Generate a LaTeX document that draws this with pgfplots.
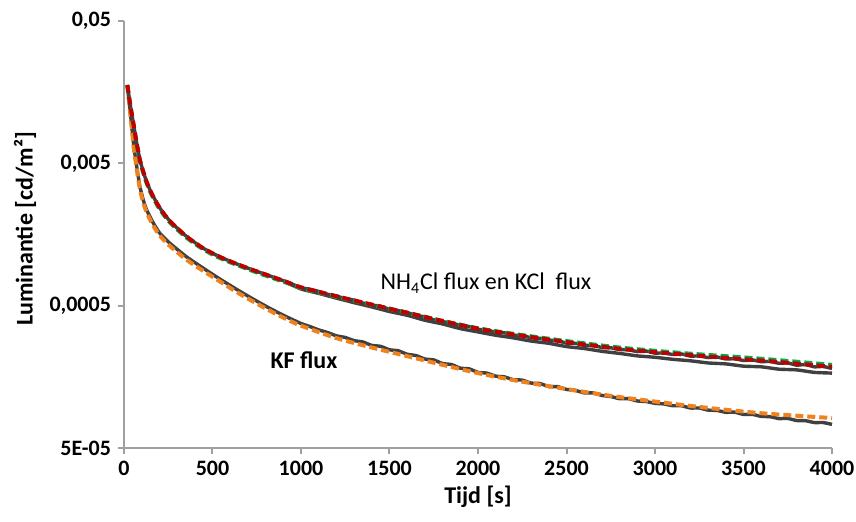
\documentclass[border=0pt]{standalone}
\usepackage{fontspec}
\setmainfont{Carlito}
\usepackage{pgfplots}
\usepackage{pgfplotstable}
\pgfplotsset{compat=1.18}
\definecolor{datagray}{HTML}{404040}
\definecolor{fitred}{HTML}{C00000}
\definecolor{fitgreen}{HTML}{00B050}
\definecolor{fitorange}{HTML}{F0821E}
\definecolor{axgray}{HTML}{A0A0A0}

\pgfplotstableread{
t v
19 0.01775
34 0.0132
53 0.00955
72 0.00691
90 0.00528
109 0.00437
128 0.00371
147 0.00325
166 0.00291
203 0.00242
260 0.00196
354 0.00153
446 0.00127
542 0.00110
638 0.000981
729 0.000890
825 0.000808
921 0.000733
1000 0.000673
1200 0.000583
1400 0.000509
1600 0.000446
1800 0.000390
2000 0.000345
2200 0.000314
2400 0.000289
2600 0.000267
2800 0.000249
3000 0.000236
3200 0.000225
3400 0.000215
3600 0.000206
3800 0.000196
4000 0.000186
}\redfit

\pgfplotstableread{
t v
19 0.01775
34 0.0131
53 0.00940
72 0.00678
90 0.00517
109 0.00428
128 0.00363
147 0.00318
166 0.00285
203 0.00237
260 0.00192
354 0.00150
446 0.00125
542 0.00108
729 0.000875
921 0.000722
1000 0.000664
1200 0.000578
1400 0.000507
1600 0.000446
1800 0.000391
2000 0.000347
2200 0.000317
2400 0.000293
2600 0.000272
2800 0.000254
3000 0.000241
3200 0.000230
3400 0.000221
3600 0.000212
3800 0.000202
4000 0.000192
}\greenfit

\pgfplotstableread{
t v
19 0.01775
34 0.0132
53 0.00955
72 0.00691
90 0.00528
109 0.00437
128 0.00371
147 0.00325
166 0.00291
203 0.00242
260 0.00196
354 0.00153
446 0.00127
542 0.00110
638 0.000981
729 0.000890
825 0.000808
921 0.000733
1000 0.000670
1050 0.000652
1100 0.000630
1150 0.000601
1200 0.000585
1250 0.000560
1300 0.000547
1350 0.000522
1400 0.000505
1450 0.000496
1500 0.000471
1550 0.000462
1600 0.000448
1650 0.000426
1700 0.000418
1750 0.000398
1800 0.000386
1850 0.000379
1900 0.000362
1950 0.000357
2000 0.000340
2050 0.000338
2100 0.000325
2150 0.000322
2200 0.000310
2250 0.000309
2300 0.000297
2350 0.000295
2400 0.000286
2450 0.000284
2500 0.000273
2550 0.000272
2600 0.000263
2650 0.000264
2700 0.000254
2750 0.000253
2800 0.000246
2850 0.000245
2900 0.000238
2950 0.000240
3000 0.000232
3050 0.000233
3100 0.000227
3150 0.000229
3200 0.000221
3250 0.000222
3300 0.000216
3350 0.000218
3400 0.000211
3450 0.000212
3500 0.000206
3550 0.000208
3600 0.000202
3650 0.000203
3700 0.000197
3750 0.000198
3800 0.000191
3850 0.000193
3900 0.000186
3950 0.000187
4000 0.000181
}\upperA

\pgfplotstableread{
t v
921 0.000725
1000 0.000655
1100 0.000610
1200 0.000565
1300 0.000525
1400 0.000490
1500 0.000455
1600 0.000428
1700 0.000395
1800 0.000372
1900 0.000345
2000 0.000327
2100 0.000310
2200 0.000297
2300 0.000282
2400 0.000272
2500 0.000258
2600 0.000250
2700 0.000239
2800 0.000231
2900 0.000222
3000 0.000217
3100 0.000210
3200 0.000205
3300 0.000198
3400 0.000195
3500 0.000188
3600 0.000186
3700 0.000179
3800 0.000177
3900 0.000170
4000 0.000168
}\upperB

\pgfplotstableread{
t v
19 0.01775
30 0.0132
44 0.00904
56 0.00654
72 0.00474
90 0.00343
109 0.00276
128 0.00235
166 0.00190
203 0.00161
260 0.00137
354 0.00110
446 0.000920
542 0.000769
638 0.000649
729 0.000557
825 0.000478
921 0.000416
1000 0.000375
1050 0.000357
1100 0.000338
1150 0.000324
1200 0.000307
1250 0.000299
1300 0.000284
1350 0.000278
1400 0.000263
1450 0.000259
1500 0.000245
1550 0.000241
1600 0.000228
1650 0.000223
1700 0.000211
1750 0.000208
1800 0.000196
1850 0.000193
1900 0.000182
1950 0.000180
2000 0.000170
2050 0.000168
2100 0.000160
2150 0.000158
2200 0.000151
2250 0.000150
2300 0.000143
2350 0.000142
2400 0.000135
2450 0.000135
2500 0.000129
2550 0.000127
2600 0.000122
2650 0.000122
2700 0.000117
2750 0.000115
2800 0.000111
2850 0.000111
2900 0.000107
2950 0.000106
3000 0.000103
3050 0.000102
3100 0.0000991
3150 0.0000990
3200 0.0000955
3250 0.0000955
3300 0.0000923
3350 0.0000918
3400 0.0000891
3450 0.0000893
3500 0.0000861
3550 0.0000862
3600 0.0000834
3650 0.0000830
3700 0.0000805
3750 0.0000807
3800 0.0000780
3850 0.0000778
3900 0.0000755
3950 0.0000755
4000 0.0000733
}\lowerdata

\pgfplotstableread{
t v
19 0.01775
30 0.0130
44 0.00880
56 0.00630
72 0.00455
90 0.00330
109 0.00265
128 0.00226
166 0.00182
203 0.00155
260 0.00131
354 0.00105
446 0.000880
542 0.000740
638 0.000622
729 0.000535
825 0.000460
921 0.000400
1000 0.000362
1200 0.000296
1400 0.000254
1600 0.000221
1800 0.000192
2000 0.000168
2200 0.000150
2400 0.000136
2600 0.000124
2800 0.000114
3000 0.000106
3200 0.0000988
3400 0.0000928
3600 0.0000878
3800 0.0000843
4000 0.0000812
}\orangefit

\begin{document}
\begin{tikzpicture}
\begin{axis}[
  scale only axis, width=354pt, height=213.5pt,
  xmin=0, xmax=4000, ymode=log, ymin=5e-5, ymax=5e-2,
  axis x line=bottom, axis y line=left,
  axis line style={axgray, line width=1pt, -},
  xtick={0,500,...,4000},
  xticklabels={0,500,1000,1500,2000,2500,3000,3500,4000},
  ytick={5e-5,5e-4,5e-3,5e-2},
  yticklabels={5E-05,{0,0005},{0,005},{0,05}},
  yminorticks=false,
  tick align=outside, major tick length=3pt,
  tick style={axgray, line width=1pt},
  ticklabel style={font=\bfseries\fontsize{11}{13}\selectfont},
  xlabel={Tijd [s]}, ylabel={Luminantie [cd/m²]},
  every axis y label/.style={at={(axis description cs:-0.1398,0.513)}, rotate=90, anchor=center, font=\bfseries\fontsize{12}{14}\selectfont},
  every axis x label/.style={at={(axis description cs:0.5,-0.1148)}, anchor=center, font=\bfseries\fontsize{12}{14}\selectfont},
  clip=false,
]
\addplot[datagray, line width=1.7pt, line join=round, smooth, tension=0.3] table {\upperB};
\addplot[datagray, line width=1.7pt, line join=round, smooth, tension=0.3] table {\upperA};
\addplot[datagray, line width=1.7pt, line join=round, smooth, tension=0.3] table {\lowerdata};
\addplot[fitorange, line width=2pt, dash pattern=on 4pt off 2pt, smooth] table {\orangefit};
\addplot[fitgreen, line width=2pt, dash pattern=on 4pt off 2pt, smooth] table {\greenfit};
\addplot[fitred, line width=2pt, dash pattern=on 4pt off 2pt, smooth] table {\redfit};
\node[font=\fontsize{12}{14}\selectfont] at (axis cs:2045,7.2e-4) {NH\textsubscript{4}Cl flux en KCl\ \ flux};
\node[font=\bfseries\fontsize{12}{14}\selectfont] at (axis cs:1017,2.08e-4) {KF flux};
\end{axis}
\pgfresetboundingbox
\useasboundingbox (-62pt,-36.5pt) rectangle (366pt,224pt);
\end{tikzpicture}
\end{document}
